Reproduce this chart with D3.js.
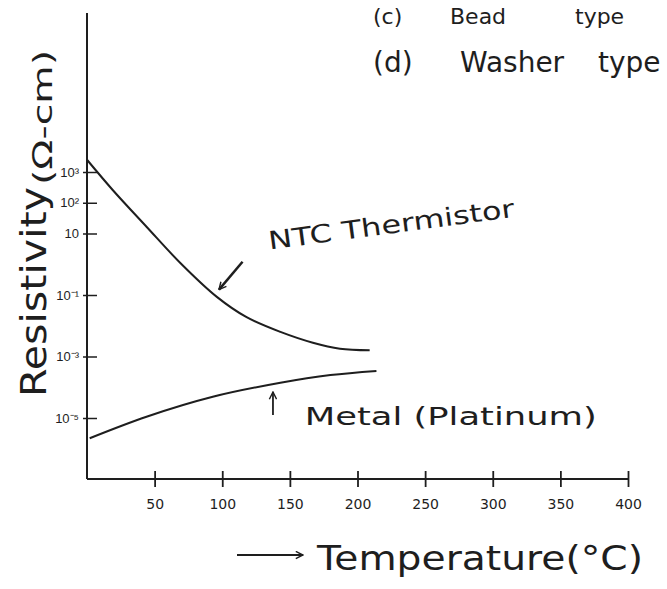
<!DOCTYPE html>
<html>
<head>
<meta charset="utf-8">
<script src="https://cdn.jsdelivr.net/npm/d3@7"></script>
<style>
  body { margin: 0; background: #fff; }
  text { font-family: "DejaVu Sans", "Liberation Sans", sans-serif; fill: #1e1e1e; }
</style>
</head>
<body>
<script>
// x axis ticks (deg C)
var tempTicks = [50, 100, 150, 200, 250, 300, 350, 400];
// y axis ticks (ohm-cm), as written on the sketch
var resTicks = [1e3, 1e2, 1e1, 1e-1, 1e-3, 1e-5];
var resLabels = ["10³", "10²", "10", "10⁻¹", "10⁻³", "10⁻⁵"];

// NTC thermistor curve
var ntcTemp = [0, 19, 44, 69, 96, 118, 143, 167, 187, 209];
var ntcRes = [2500, 260, 16.6, 1.1, 0.087, 0.019, 0.0063, 0.0028, 0.0018, 0.0016];

// metal (platinum) curve
var metalTemp = [2, 44, 93, 143, 180, 214];
var metalRes = [2.2e-6, 1.1e-5, 4.9e-5, 1.4e-4, 2.5e-4, 3.4e-4];

var width = 667, height = 589;
var ink = "#1e1e1e";

var svg = d3.select("body").append("svg")
  .attr("width", width)
  .attr("height", height);

var x = d3.scaleLinear().domain([0, 400]).range([87, 628]);
var y = d3.scaleLog().domain([1e-5, 1e3]).range([418, 172]);
var x0 = x(0), y0 = 479;

// axis lines
svg.append("line")
  .attr("x1", x0).attr("x2", x0)
  .attr("y1", 13).attr("y2", y0)
  .attr("stroke", ink).attr("stroke-width", 2);
svg.append("line")
  .attr("x1", x0).attr("x2", x(400))
  .attr("y1", y0).attr("y2", y0)
  .attr("stroke", ink).attr("stroke-width", 2);

// x ticks cross the axis line
var xAxis = d3.axisBottom(x).tickValues(tempTicks).tickSize(16).tickPadding(12);
var gx = svg.append("g")
  .attr("transform", "translate(0," + (y0 - 8) + ")")
  .call(xAxis);
gx.select(".domain").remove();
gx.selectAll("line").attr("stroke", ink).attr("stroke-width", 1.8);
gx.selectAll("text").style("font-size", "14px").attr("fill", ink);

var yAxis = d3.axisLeft(y).tickValues(resTicks)
  .tickFormat(function (d, i) { return resLabels[i]; })
  .tickSize(14).tickPadding(4);
var gy = svg.append("g")
  .attr("transform", "translate(" + (x0 + 10) + ",0)")
  .call(yAxis);
gy.select(".domain").remove();
gy.selectAll("line").attr("stroke", ink).attr("stroke-width", 1.5);
gy.selectAll("text")
  .style("font-family", "'Liberation Sans Narrow', 'Liberation Sans', sans-serif")
  .style("font-size", "13px").attr("fill", ink);

// curves
var line = d3.line()
  .x(function (d) { return x(d[0]); })
  .y(function (d) { return y(d[1]); })
  .curve(d3.curveCatmullRom.alpha(0.5));

svg.append("path")
  .datum(d3.zip(ntcTemp, ntcRes))
  .attr("d", line)
  .attr("fill", "none").attr("stroke", ink).attr("stroke-width", 2);

svg.append("path")
  .datum(d3.zip(metalTemp, metalRes))
  .attr("d", line)
  .attr("fill", "none").attr("stroke", ink).attr("stroke-width", 2);

// arrow heads
svg.append("defs").append("marker")
  .attr("id", "head")
  .attr("viewBox", "0 0 10 10")
  .attr("refX", 9).attr("refY", 5)
  .attr("markerWidth", 9).attr("markerHeight", 9)
  .attr("markerUnits", "userSpaceOnUse")
  .attr("orient", "auto")
  .append("path")
  .attr("d", "M1,1 L9,5 L1,9")
  .attr("fill", "none").attr("stroke", ink).attr("stroke-width", 1.6);

// NTC label + pointer
svg.append("line")
  .attr("x1", x(115)).attr("y1", y(1.2))
  .attr("x2", x(97.6)).attr("y2", y(0.15))
  .attr("stroke", ink).attr("stroke-width", 2.5)
  .attr("marker-end", "url(#head)");
svg.append("text")
  .attr("transform", "translate(" + x(135) + "," + y(3) + ") rotate(-7.6)")
  .attr("textLength", 248).attr("lengthAdjust", "spacingAndGlyphs")
  .style("font-size", "25px")
  .text("NTC Thermistor");

// metal label + pointer
svg.append("line")
  .attr("x1", x(137.5)).attr("y1", y(1.26e-5))
  .attr("x2", x(137.5)).attr("y2", y(7e-5))
  .attr("stroke", ink).attr("stroke-width", 1.8)
  .attr("marker-end", "url(#head)");
svg.append("text")
  .attr("x", x(161)).attr("y", y(6e-6))
  .attr("textLength", 292).attr("lengthAdjust", "spacingAndGlyphs")
  .style("font-size", "25px")
  .text("Metal (Platinum)");

// axis titles
svg.append("line")
  .attr("x1", 237).attr("x2", 303)
  .attr("y1", 555).attr("y2", 555)
  .attr("stroke", ink).attr("stroke-width", 2)
  .attr("marker-end", "url(#head)");
svg.append("text")
  .attr("x", 317).attr("y", 570)
  .attr("textLength", 326).attr("lengthAdjust", "spacingAndGlyphs")
  .style("font-size", "33px")
  .text("Temperature(°C)");

svg.append("text")
  .attr("transform", "translate(46,397) rotate(-90)")
  .attr("textLength", 210).attr("lengthAdjust", "spacingAndGlyphs")
  .style("font-size", "36px")
  .text("Resistivity");
svg.append("text")
  .attr("transform", "translate(52,185) rotate(-90)")
  .attr("textLength", 135).attr("lengthAdjust", "spacingAndGlyphs")
  .style("font-size", "27px")
  .text("(Ω-cm)");

// notes at the top of the page
var notes = svg.append("g").style("font-size", "22px");
notes.append("text").attr("y", 24)
  .selectAll("tspan")
  .data([["(c)", 373], ["Bead", 450], ["type", 575]])
  .enter().append("tspan")
  .attr("x", function (d) { return d[1]; })
  .text(function (d) { return d[0]; });
notes.append("text").attr("y", 72)
  .style("font-size", "28px")
  .selectAll("tspan")
  .data([["(d)", 373], ["Washer", 460], ["type", 598]])
  .enter().append("tspan")
  .attr("x", function (d) { return d[1]; })
  .text(function (d) { return d[0]; });
</script>
</body>
</html>
